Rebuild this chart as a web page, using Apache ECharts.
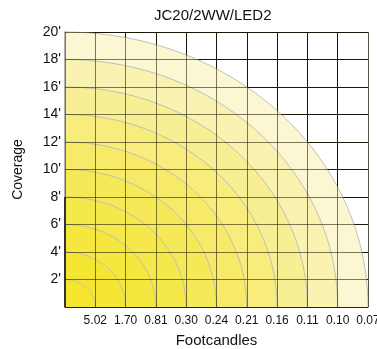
<!DOCTYPE html>
<html>
<head>
<meta charset="utf-8">
<script src="https://cdn.jsdelivr.net/npm/echarts@6/dist/echarts.min.js"></script>
<style>
  html, body { margin: 0; padding: 0; background: #fff; }
  #chart { width: 377px; height: 349px; }
</style>
</head>
<body>
<div id="chart"></div>
<script>
// footcandle reading under each grid column line (x = 1..10)
const footcandles = ['5.02', '1.70', '0.81', '0.30', '0.24', '0.21', '0.16', '0.11', '0.10', '0.07'];
// coverage in feet, y axis
const coverageTicks = [2, 4, 6, 8, 10, 12, 14, 16, 18, 20];
// ring outer radius in columns (the y radius is 2 ft per column)
const ringRadii = [1, 2, 3, 4, 5, 6, 7, 8, 9, 10];

const ringColors = ['#f5e52c', '#f5e634', '#f5e73e', '#f5e84a', '#f6e958',
  '#f6ea68', '#f7ec7c', '#f8ee94', '#f9f2b0', '#fbf7d3'];

const myChart = echarts.init(document.getElementById('chart'));

function arcPoints(api, r, from, to) {
  const pts = [];
  const n = 60;
  for (let i = 0; i <= n; i++) {
    const t = (from + (to - from) * i / n) * Math.PI / 2;
    pts.push(api.coord([r * Math.cos(t), 2 * r * Math.sin(t)]));
  }
  return pts;
}

const txt = '"Liberation Sans", Arial, sans-serif';

myChart.setOption({
  animation: false,
  title: {
    text: 'JC20/2WW/LED2',
    left: 154,
    top: 8,
    padding: 0,
    textStyle: { fontFamily: txt, fontSize: 15, fontWeight: 'normal', color: '#111' },
  },
  grid: { left: 65, right: 9, top: 32, bottom: 42, containLabel: false, outerBoundsMode: 'none' },
  xAxis: [
    {
      type: 'value', min: 0, max: 10, interval: 1, z: 0,
      name: 'Footcandles', nameLocation: 'middle', nameGap: 26,
      nameTextStyle: { fontFamily: txt, fontSize: 15, color: '#111' },
      axisLine: { show: true, onZero: false, lineStyle: { color: '#333', width: 1.5 } },
      axisTick: { show: false },
      axisLabel: {
        margin: 8, fontFamily: txt, fontSize: 12, color: '#111',
        formatter: (v) => (v === 0 ? '' : footcandles[v - 1]),
      },
      splitLine: { lineStyle: { color: ['#999', '#000', '#000', '#000', '#000', '#000', '#000', '#000', '#000', '#000', '#999'], width: 1 } },
    },
    {
      // second pass of the grid lines, drawn over the rings
      type: 'value', min: 0, max: 10, interval: 1, z: 5, position: 'bottom',
      axisLine: { show: false }, axisTick: { show: false }, axisLabel: { show: false },
      splitLine: { lineStyle: { color: 'rgba(40,35,10,0.6)', width: 1 } },
    },
  ],
  yAxis: [
    {
      type: 'value', min: 0, max: 20, interval: 2, z: 0,
      name: 'Coverage', nameLocation: 'middle', nameGap: 40,
      nameTextStyle: { fontFamily: txt, fontSize: 14, color: '#111' },
      axisLine: { show: true, onZero: false, lineStyle: { color: '#999', width: 1.5 } },
      axisTick: { show: false },
      axisLabel: {
        margin: 4, fontFamily: txt, fontSize: 14, color: '#111',
        formatter: (v) => (v === 0 ? '' : v + "'"),
      },
      splitLine: { lineStyle: { color: '#000', width: 1 } },
    },
    {
      type: 'value', min: 0, max: 20, interval: 2, z: 5, position: 'left',
      axisLine: { show: false }, axisTick: { show: false }, axisLabel: { show: false },
      splitLine: { lineStyle: { color: 'rgba(40,35,10,0.6)', width: 1 } },
    },
  ],
  series: [
    {
      type: 'custom',
      xAxisIndex: 0,
      yAxisIndex: 0,
      z: 2,
      data: ringRadii.map((r, i) => [r, i]),
      renderItem: (params, api) => {
        const r = api.value(0);
        const idx = api.value(1);
        const outer = arcPoints(api, r, 0, 1);
        const inner = r > 1 ? arcPoints(api, r - 1, 1, 0) : [api.coord([0, 0])];
        return {
          type: 'group',
          children: [
            {
              type: 'polygon',
              shape: { points: outer.concat(inner) },
              style: { fill: ringColors[idx], stroke: null },
            },
            {
              type: 'polyline',
              z2: 3,
              shape: { points: outer },
              style: { fill: null, stroke: 'rgba(185,185,175,0.9)', lineWidth: 1 },
            },
          ],
        };
      },
      markLine: {
        silent: true,
        symbol: 'none',
        label: { show: false },
        lineStyle: { color: '#333', width: 2, type: 'solid' },
        data: [[{ coord: [0, 0] }, { coord: [0, 8] }]],
      },
    },
  ],
});
</script>
</body>
</html>
